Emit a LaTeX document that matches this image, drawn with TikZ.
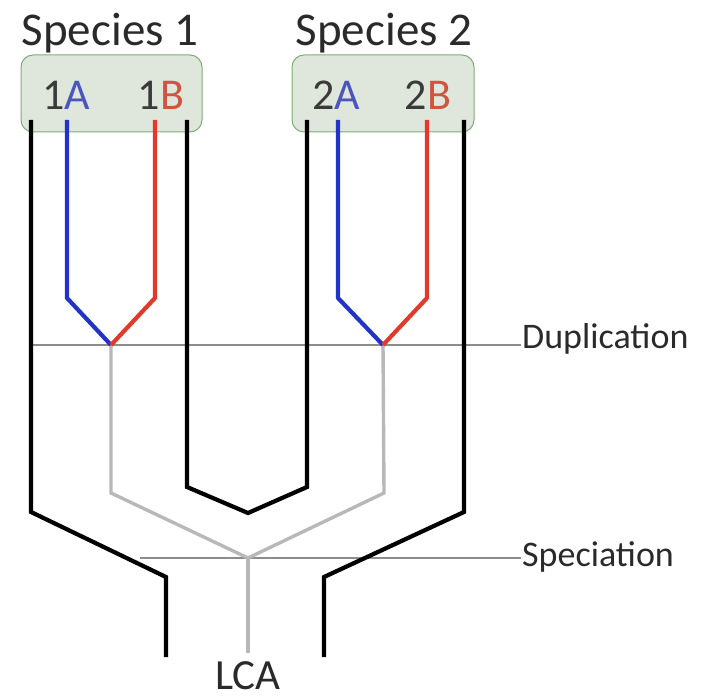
\documentclass[tikz,border=0pt]{standalone}
\usepackage{fontspec}
\setmainfont{Carlito}
\begin{document}
\begin{tikzpicture}[x=1pt,y=-1pt,
  gene/.style={line width=4.2pt,line join=miter},
  ortho/.style={gene,black},
  paraA/.style={gene,draw=geneblue},
  paraB/.style={gene,draw=genered},
  ancestor/.style={line width=3.4pt,draw=ancgray,line join=miter},
  eventline/.style={line width=1.4pt,draw=eventgray},
  speciesbox/.style={draw=boxgreen,line width=1pt,fill=boxfill,rounded corners=12pt},
  title/.style={font=\fontsize{47}{50}\selectfont,text=titlegray,anchor=base,inner sep=0pt},
  genelabel/.style={font=\fontsize{44}{48}\selectfont,anchor=base,inner sep=0pt},
  eventlabel/.style={font=\fontsize{36}{40}\selectfont,text=titlegray,anchor=base west,inner sep=0pt},
]
\definecolor{geneblue}{HTML}{2233C8}
\definecolor{genered}{HTML}{E23A2A}
\definecolor{ancgray}{HTML}{B8B8B8}
\definecolor{eventgray}{HTML}{8C8C8C}
\definecolor{boxgreen}{HTML}{7FAE75}
\definecolor{boxfill}{HTML}{DFE6DB}
\definecolor{titlegray}{HTML}{2A2A2A}
\definecolor{digitgray}{HTML}{3A3A3A}
\definecolor{labelblue}{HTML}{4A55BE}
\definecolor{labelred}{HTML}{D0553F}

\useasboundingbox (0,0) rectangle (703,700);

% species boxes and titles
\path[speciesbox] (21,55) rectangle (202,132);
\path[speciesbox] (292,55) rectangle (474,132);
\node[title] (sp1) at (110,46) {Species 1};
\node[title] (sp2) at (384,46) {Species 2};

\node[genelabel] (g1A) at (66,110) {\textcolor{digitgray}{1}\textcolor{labelblue}{A}};
\node[genelabel] (g1B) at (161,110) {\textcolor{digitgray}{1}\textcolor{labelred}{B}};
\node[genelabel] (g2A) at (336,110) {\textcolor{digitgray}{2}\textcolor{labelblue}{A}};
\node[genelabel] (g2B) at (428,110) {\textcolor{digitgray}{2}\textcolor{labelred}{B}};

% tree joints
\coordinate (dup1) at (111,345);
\coordinate (dup2) at (383,345);
\coordinate (spec) at (248,558);
\coordinate (lca) at (248,653);

% event lines
\coordinate (dupL) at (30,345);
\coordinate (dupR) at (521,345);
\coordinate (specL) at (140,558);
\coordinate (specR) at (521,558);
\draw[eventline] (dupL) -- (dupR);
\draw[eventline] (specL) -- (specR);
\node[eventlabel] (dupText) at (522,348) {Duplication};
\node[eventlabel] (specText) at (522,566) {Speciation};

% ancestral lineages
\draw[ancestor] (dup1) -- (111,493) -- (spec);
\draw[ancestor] (dup2) -- (384,493) -- (spec);
\draw[ancestor] (spec) -- (lca);

% paralogues after duplication
\draw[paraA] (67,120) -- (67,298) -- (dup1);
\draw[paraB] (155,120) -- (155,298) -- (dup1);
\draw[paraA] (338,120) -- (338,298) -- (dup2);
\draw[paraB] (427,120) -- (427,298) -- (dup2);

% species lineages
\draw[ortho] (31,120) -- (31,512) -- (166,577) -- (166,657);
\draw[ortho] (464,120) -- (464,512) -- (324,577) -- (324,657);
\draw[ortho] (187,120) -- (187,487) -- (248,513) -- (307,487) -- (307,120);

\node[title,font=\fontsize{43}{46}\selectfont] (lcaText) at (248,689) {LCA};
\end{tikzpicture}
\end{document}
